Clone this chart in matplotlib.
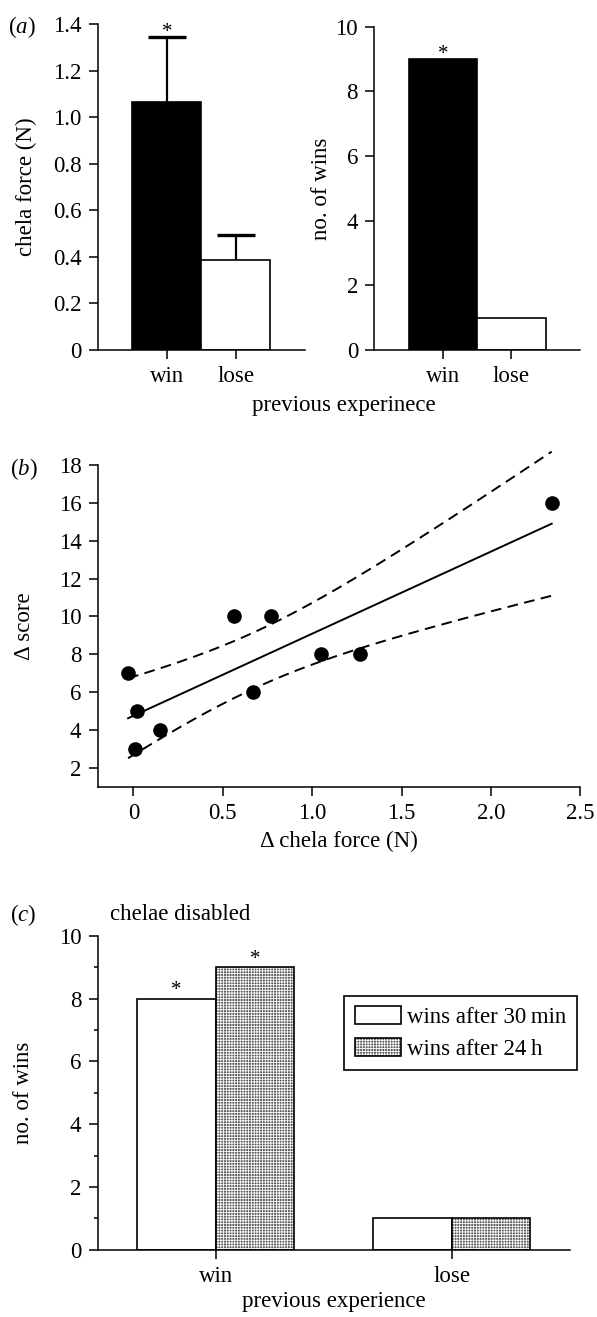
import matplotlib
matplotlib.use('Agg')
import matplotlib.pyplot as plt
import numpy as np
from matplotlib.legend_handler import HandlerTuple
from matplotlib.ticker import MultipleLocator

FS = 16.5
plt.rcParams['font.family'] = ['Liberation Serif', 'DejaVu Serif']
plt.rcParams['mathtext.fontset'] = 'custom'
plt.rcParams['mathtext.it'] = 'Liberation Serif:italic'
plt.rcParams['mathtext.rm'] = 'Liberation Serif'
plt.rcParams['font.size'] = FS
plt.rcParams['axes.linewidth'] = 1.1
plt.rcParams['hatch.linewidth'] = 0.6

# (a) chela force and wins by previous experience
groups = ['win', 'lose']
force_mean = [1.065, 0.385]
force_err = [0.28, 0.11]
force_sig = [True, False]
wins_a = [9, 1]
wins_a_sig = [True, False]
force_ticks = [0, 0.2, 0.4, 0.6, 0.8, 1.0, 1.2, 1.4]
force_ticklabels = ['0', '0.2', '0.4', '0.6', '0.8', '1.0', '1.2', '1.4']
wins_ticks = [0, 2, 4, 6, 8, 10]

# (b) change in chela force vs change in score
dforce = [-0.03, 0.02, 0.006, 0.15, 0.56, 0.77, 0.67, 1.05, 1.27, 2.34]
dscore = [7, 5, 3, 4, 10, 10, 6, 8, 8, 16]
score_ticks = [2, 4, 6, 8, 10, 12, 14, 16, 18]
dforce_ticks = [0, 0.5, 1.0, 1.5, 2.0, 2.5]
dforce_ticklabels = ['0', '0.5', '1.0', '1.5', '2.0', '2.5']

# (c) chelae disabled
series = ['wins after 30\u2009min', 'wins after 24\u2009h']
wins_30min = [8, 1]
wins_24h = [9, 1]
sig_30min = [True, False]
sig_24h = [True, False]

W, H = 597, 1317
fig = plt.figure(figsize=(W / 100, H / 100), dpi=100)


def px_axes(x0, y0, x1, y1):
    return fig.add_axes([x0 / W, 1 - y1 / H, (x1 - x0) / W, (y1 - y0) / H])


def style(ax):
    for s in ['top', 'right']:
        ax.spines[s].set_visible(False)
    ax.tick_params(direction='out', length=6.7, width=1.1, pad=5, labelsize=FS)
    ax.tick_params(which='minor', direction='out', length=3.2, width=1.1)


def star(ax, x, y, dy):
    ax.annotate('*', (x, y), xytext=(0, dy), textcoords='offset points',
                ha='center', va='center', fontsize=15, annotation_clip=False)


ax1 = px_axes(97.7, 24.3, 305, 350)
ax2 = px_axes(374.3, 26.7, 580, 350)
ax3 = px_axes(97.7, 465, 580.3, 786.7)
ax4 = px_axes(97.7, 936, 569.7, 1249.7)

# ---- (a) left
x = np.arange(len(groups))
ax1.bar(x, force_mean, width=1, color=['black', 'white'], edgecolor='black', lw=1.2, zorder=2)
top = np.array(force_mean) + np.array(force_err)
ax1.vlines(x, force_mean, top, color='black', lw=1.6, zorder=3)
ax1.plot(x, top, ls='none', marker='_', ms=27, mew=2.4, color='black', zorder=3)
for i in range(len(x)):
    if force_sig[i]:
        star(ax1, x[i], top[i], 3)
ax1.set_xlim(-1, 2)
ax1.set_ylim(0, 1.4)
ax1.set_yticks(force_ticks, force_ticklabels)
ax1.set_xticks(x, groups)
ax1.set_ylabel('chela force (N)')
ax1.yaxis.set_label_coords(-0.294, 0.5)
style(ax1)

# ---- (a) right
ax2.bar(x, wins_a, width=1, color=['black', 'white'], edgecolor='black', lw=1.2, zorder=2)
for i in range(len(x)):
    if wins_a_sig[i]:
        star(ax2, x[i], wins_a[i], 3)
ax2.set_xlim(-1, 2)
ax2.set_ylim(0, 10)
ax2.set_yticks(wins_ticks)
ax2.set_xticks(x, groups)
ax2.set_ylabel('no. of wins')
ax2.yaxis.set_label_coords(-0.207, 0.5)
style(ax2)

fig.text(343.5 / W, 1 - 405 / H, 'previous experinece', ha='center', va='center', fontsize=FS)
fig.text(8 / W, 1 - 27 / H, '($\\it{a}$)', ha='left', va='center', fontsize=FS)

# ---- (b)
xs = np.array(dforce)
ys = np.array(dscore)
n = len(xs)
slope, icpt = np.polyfit(xs, ys, 1)
xl = np.linspace(xs.min(), xs.max(), 200)
yl = icpt + slope * xl
resid = ys - (icpt + slope * xs)
s = np.sqrt(np.sum(resid ** 2) / (n - 2))
sxx = np.sum((xs - xs.mean()) ** 2)
t975 = 2.306  # t(0.975, df=8)
ci = t975 * s * np.sqrt(1 / n + (xl - xs.mean()) ** 2 / sxx)
ax3.plot(xl, yl, color='black', lw=1.4, clip_on=False)
ax3.plot(xl, yl + ci, color='black', lw=1.4, dashes=(5.5, 3.3), clip_on=False)
ax3.plot(xl, yl - ci, color='black', lw=1.4, dashes=(5.5, 3.3), clip_on=False)
ax3.plot(xs, ys, ls='none', marker='o', ms=9.5, color='black', clip_on=False, zorder=4)
ax3.set_xlim(-0.2, 2.5)
ax3.set_ylim(1, 18)
ax3.set_yticks(score_ticks)
ax3.set_xticks(dforce_ticks, dforce_ticklabels)
ax3.set_ylabel('\u0394 score')
ax3.yaxis.set_label_coords(-0.130, 0.5)
ax3.set_xlabel('\u0394 chela force (N)', labelpad=5)
style(ax3)
fig.text(10 / W, 1 - 469 / H, '($\\it{b}$)', ha='left', va='center', fontsize=FS)

# ---- (c)
xc = np.arange(len(groups))
bw = 1 / 3
b30 = ax4.bar(xc - bw / 2, wins_30min, width=bw, facecolor='white', edgecolor='black', lw=1.2, zorder=2)
b24h = ax4.bar(xc + bw / 2, wins_24h, width=bw, facecolor='#5a5a5a', edgecolor='white',
               hatch='++++++', lw=0, zorder=2)
b24o = ax4.bar(xc + bw / 2, wins_24h, width=bw, fill=False, edgecolor='black', lw=1.2, zorder=3)
for i in range(len(xc)):
    if sig_30min[i]:
        star(ax4, xc[i] - bw / 2, wins_30min[i], 6)
    if sig_24h[i]:
        star(ax4, xc[i] + bw / 2, wins_24h[i], 6)
ax4.set_xlim(-0.5, 1.5)
ax4.set_ylim(0, 10)
ax4.set_yticks(wins_ticks)
ax4.yaxis.set_minor_locator(MultipleLocator(1))
ax4.set_xticks(xc, groups)
ax4.set_ylabel('no. of wins')
ax4.yaxis.set_label_coords(-0.136, 0.5)
ax4.set_xlabel('previous experience', labelpad=3)
style(ax4)
leg = ax4.legend([b30[0], (b24h[0], b24o[0])], series,
                 handler_map={tuple: HandlerTuple(ndivide=1)},
                 loc='upper right', bbox_to_anchor=(577 / W, 1 - 995.7 / H),
                 bbox_transform=fig.transFigure, frameon=True, fancybox=False,
                 edgecolor='black', framealpha=1, handlelength=2.0, handleheight=0.8,
                 handletextpad=0.3, borderpad=0.45, labelspacing=0.45, borderaxespad=0,
                 fontsize=FS)
leg.get_frame().set_linewidth(1.2)
fig.text(10 / W, 1 - 915 / H, '($\\it{c}$)', ha='left', va='center', fontsize=FS)
fig.text(110 / W, 1 - 915 / H, 'chelae disabled', ha='left', va='center', fontsize=FS)

fig.savefig('out.png', dpi=100)
